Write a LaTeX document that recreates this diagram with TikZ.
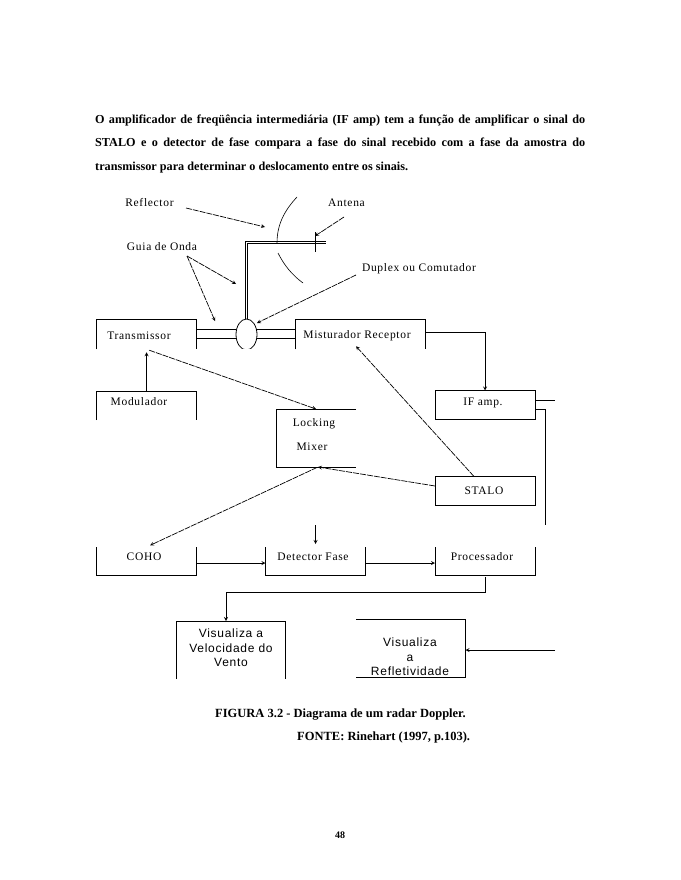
\documentclass[tikz,border=0pt]{standalone}
\usepackage{fontspec}
\setmainfont{Liberation Serif}
\newfontfamily\labelfont[LetterSpace=6]{Liberation Serif}
\newfontfamily\boxfont[LetterSpace=6]{Liberation Sans}
\usetikzlibrary{shapes.geometric}
\tikzset{
    blockbox/.style={shape=rectangle, inner sep=0pt, outer sep=0pt},
    boxlabel/.style={inner sep=0pt, font=\labelfont\fontsize{11.5}{13}\selectfont},
    sanslabel/.style={inner sep=0pt, align=center, font=\boxfont\fontsize{12}{14.5}\selectfont},
    wire/.style={line width=0.8pt, ->, >=stealth},
    jagged/.style={line width=0.7pt, ->, >=stealth, dash pattern=on 6pt off 1pt},
    plainline/.style={line width=0.8pt},
    pagetext/.style={inner sep=0pt, font=\bfseries\fontsize{12.5}{23.5}\selectfont}
}
\begin{document}
\begin{tikzpicture}[x=1pt, y=-1pt]
    \useasboundingbox (0, 0) rectangle (680, 880);
    \fill[white] (0, 0) rectangle (680, 880);
    \node[pagetext, anchor=north west, text width=490pt, align=justify, font=\bfseries\fontsize{12.2}{23.5}\selectfont] (paragraph) at (95, 114.5) {\hyphenpenalty=10000 O amplificador de freqüência intermediária (IF amp) tem a função de amplificar o sinal do\linebreak STALO e o detector de fase compara a fase do sinal recebido com a fase da amostra do\linebreak transmissor para determinar o deslocamento entre os sinais.};

    % blocks
    \node[blockbox, minimum width=100pt, minimum height=29.5pt] (transmissor) at (146.5, 334.5) {};
    \node[blockbox, minimum width=130pt, minimum height=29.5pt] (misturador) at (360, 334.5) {};
    \node[blockbox, minimum width=100pt, minimum height=29pt] (modulador) at (146.5, 405.5) {};
    \node[blockbox, minimum width=100pt, minimum height=29pt] (ifamp) at (485, 405) {};
    \node[blockbox, minimum width=80pt, minimum height=58pt] (locking) at (316, 438) {};
    \node[blockbox, minimum width=100pt, minimum height=29pt] (stalo) at (485, 491) {};
    \node[blockbox, minimum width=100pt, minimum height=28pt] (coho) at (146.5, 561) {};
    \node[blockbox, minimum width=100pt, minimum height=28pt] (detector) at (315.5, 561) {};
    \node[blockbox, minimum width=100pt, minimum height=28pt] (processador) at (485, 561) {};
    \node[blockbox, minimum width=109pt, minimum height=58pt] (velocidade) at (231, 650) {};
    \node[blockbox, minimum width=109.5pt, minimum height=57.5pt] (refletividade) at (410.75, 648.5) {};

    \draw[plainline] (transmissor.south west) |- (transmissor.north east) -- (transmissor.south east);
    \draw[plainline] (misturador.south west) |- (misturador.north east) -- (misturador.south east);
    \draw[plainline] (modulador.south west) |- (modulador.north east) -- (modulador.south east);
    \draw[plainline] (ifamp.north west) rectangle (ifamp.south east);
    \draw[plainline] (locking.north east) -- (locking.north west) -- (locking.south west) -- (locking.south east);
    \draw[plainline] (stalo.north west) rectangle (stalo.south east);
    \draw[plainline] (coho.north west) |- (coho.south east) -- (coho.north east);
    \draw[plainline] (detector.north west) |- (detector.south east) -- (detector.north east);
    \draw[plainline] (processador.north west) |- (processador.south east) -- (processador.north east);
    \draw[plainline] (velocidade.south west) |- (velocidade.north east) -- (velocidade.south east);
    \draw[plainline] (refletividade.north west) -- (refletividade.north east) -- (refletividade.south east) -- (refletividade.south west);

    % texts of the blocks
    \node[boxlabel] (transmissortext) at (139, 336) {Transmissor};
    \node[boxlabel] (misturadortext) at (357, 336) {Misturador Receptor};
    \node[boxlabel] (moduladortext) at (139, 402) {Modulador};
    \node[boxlabel] (ifamptext) at (483, 403) {IF amp.};
    \node[boxlabel] (lockingtext) at (314, 424) {Locking};
    \node[boxlabel] (mixertext) at (312, 447) {Mixer};
    \node[boxlabel] (stalotext) at (484, 491) {STALO};
    \node[boxlabel] (cohotext) at (144, 557) {COHO};
    \node[boxlabel] (detectortext) at (313, 557) {Detector Fase};
    \node[boxlabel] (processadortext) at (482, 557) {Processador};
    \node[sanslabel] (velocidadetext) at (231, 648) {Visualiza a\\Velocidade do\\Vento};
    \node[sanslabel] (refletividadetext) at (410, 657) {Visualiza\\a\\Refletividade};

    % free labels
    \node[boxlabel] (reflector) at (149.5, 203) {Reflector};
    \node[boxlabel] (antena) at (346.5, 203) {Antena};
    \node[boxlabel] (guia) at (162, 247) {Guia de Onda};
    \node[boxlabel] (duplextext) at (419, 269) {Duplex ou Comutador};

    % duplex and wave guide
    \begin{scope}
        \clip (230, 310) rectangle (262, 348.5);
        \node[draw, shape=ellipse, line width=0.8pt, inner sep=0pt, minimum width=21pt, minimum height=31pt] (duplex) at (246.5, 334.5) {};
    \end{scope}
    \draw[plainline] (transmissor.east |- 0, 329.5) -- (duplex.west |- 0, 329.5);
    \draw[plainline] (transmissor.east |- 0, 338) -- (duplex.west |- 0, 338);
    \draw[plainline] (duplex.east |- 0, 329.5) -- (misturador.west |- 0, 329.5);
    \draw[plainline] (duplex.east |- 0, 338) -- (misturador.west |- 0, 338);
    \coordinate (guideend) at (326, 242);
    \draw[line width=0.5pt] (245, 319) |- ([yshift=1pt]guideend);
    \draw[line width=0.5pt] (247, 319) |- ([yshift=-1pt]guideend);
    \draw[plainline] (315.5, 232) -- (315.5, 252);
    \draw[line width=0.6pt] (297, 197) .. controls (284, 211) and (277, 225) .. (277, 243);
    \draw[line width=0.6pt] (278, 253) .. controls (284, 265) and (292, 275) .. (303, 283);

    % connectors
    \coordinate (reflectorend) at (265, 227);
    \coordinate (reflectorstart) at (186, 208);
    \coordinate (antenaend) at (315, 236);
    \coordinate (antenastart) at (344, 217);
    \coordinate (guiastart) at (187, 256);
    \coordinate (guiaendA) at (236, 284);
    \coordinate (guiaendB) at (215, 321);
    \coordinate (duplexstart) at (356, 275);
    \coordinate (duplexend) at (257, 323);
    \draw[jagged] (reflectorstart) -- (reflectorend);
    \draw[jagged] (antenastart) -- (antenaend);
    \draw[jagged] (guiastart) -- (guiaendA);
    \draw[jagged] (guiastart) -- (guiaendB);
    \draw[jagged] (duplexstart) -- (duplexend);

    \draw[wire, shorten >=3pt] (modulador.north) -- (transmissor.south);
    \draw[jagged, shorten <=3pt] (transmissor.south) -- (locking.north);
    \draw[jagged] ([xshift=-11pt]stalo.north) -- ([xshift=-4pt, yshift=3pt]misturador.south);
    \draw[jagged] ([yshift=5pt]stalo.west) -- ([xshift=2pt]locking.south);
    \draw[jagged, shorten <=1pt, shorten >=4pt] ([xshift=2pt]locking.south) -- (coho.north);
    \draw[wire] (misturador.east |- 0, 332) -| (ifamp.north);
    \draw[plainline] (ifamp.east |- 0, 400) -- (555, 400);
    \coordinate (ifbranch) at (545.5, 525);
    \draw[plainline] (ifamp.east |- 0, 409.5) -| (ifbranch);
    \coordinate (detectorstart) at (315.5, 525);
    \draw[wire, shorten >=3pt] (detectorstart) -- (detector.north);
    \draw[wire] (coho.east |- 0, 563) -- (detector.west |- 0, 563);
    \draw[wire] (detector.east |- 0, 563) -- (processador.west |- 0, 563);
    \draw[wire] ([yshift=-2pt]processador.south) |- (226, 592) -- (velocidade.north -| 226, 0);
    \coordinate (refletividadestart) at (555, 650);
    \draw[wire] (refletividadestart) -- (refletividade.east |- 0, 650);

    % caption
    \node[pagetext, anchor=west] (caption) at (215, 715) {FIGURA 3.2 - Diagrama de um radar Doppler.};
    \node[pagetext, anchor=west] (source) at (297, 737) {FONTE: Rinehart (1997, p.103).};
    \node[pagetext, font=\bfseries\fontsize{10}{12}\selectfont] (pagenumber) at (340, 835) {48};
\end{tikzpicture}
\end{document}
